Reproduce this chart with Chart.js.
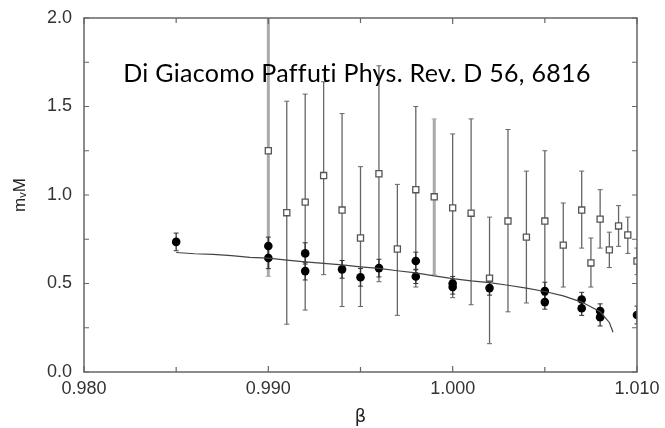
<!DOCTYPE html>
<html>
<head>
<meta charset="utf-8">
<script src="https://cdn.jsdelivr.net/npm/chart.js@4"></script>
<style>
  html, body { margin: 0; padding: 0; background: #fff; }
  #wrap { width: 665px; height: 428px; }
</style>
</head>
<body>
<div id="wrap"><canvas id="grafica" width="665" height="428"></canvas></div>
<script>
// open squares: beta, value, lower and upper end of error bar
const betaSq = [0.990, 0.991, 0.992, 0.993, 0.994, 0.995, 0.996, 0.997, 0.998, 0.999, 1.000, 1.001,
                1.002, 1.003, 1.004, 1.005, 1.006, 1.007, 1.0075, 1.008, 1.0085, 1.009, 1.0095, 1.010];
const mSq = [1.25, 0.90, 0.96, 1.11, 0.915, 0.757, 1.12, 0.695, 1.03, 0.99, 0.927, 0.897,
             0.53, 0.853, 0.762, 0.853, 0.717, 0.915, 0.616, 0.864, 0.69, 0.825, 0.774, 0.627];
const sqLo = [0.54, 0.27, 0.35, 0.55, 0.37, 0.37, 0.51, 0.32, 0.48, 0.55, 0.42, 0.38,
              0.16, 0.34, 0.39, 0.40, 0.48, 0.70, 0.48, 0.70, 0.59, 0.71, 0.67, 0.55];
const sqHi = [2.1, 1.53, 1.57, 1.64, 1.46, 1.16, 1.73, 1.06, 1.50, 1.43, 1.345, 1.43,
              0.875, 1.37, 1.135, 1.25, 0.955, 1.135, 0.757, 1.03, 0.79, 0.94, 0.875, 0.70];

// filled circles
const betaC = [0.985, 0.990, 0.990, 0.992, 0.992, 0.994, 0.995, 0.996, 0.998, 0.998,
               1.000, 1.000, 1.002, 1.005, 1.005, 1.007, 1.007, 1.008, 1.008, 1.010];
const mC = [0.735, 0.712, 0.644, 0.67, 0.57, 0.58, 0.535, 0.587, 0.627, 0.54,
            0.50, 0.48, 0.474, 0.457, 0.395, 0.41, 0.36, 0.345, 0.31, 0.322];
const errC = [0.05, 0.05, 0.06, 0.06, 0.05, 0.05, 0.05, 0.05, 0.05, 0.04,
              0.04, 0.04, 0.04, 0.05, 0.04, 0.04, 0.04, 0.04, 0.05, 0.05];

// fitted curve
const fitBeta = [0.985, 0.986, 0.987, 0.988, 0.989, 0.990, 0.991, 0.992, 0.993, 0.994, 0.995, 0.996,
                 0.997, 0.998, 0.999, 1.000, 1.001, 1.002, 1.003, 1.004, 1.005, 1.006, 1.007, 1.008,
                 1.0085, 1.0087];
const fitM = [0.675, 0.668, 0.665, 0.658, 0.648, 0.643, 0.632, 0.622, 0.614, 0.605, 0.594, 0.585,
              0.572, 0.56, 0.543, 0.528, 0.515, 0.505, 0.49, 0.474, 0.455, 0.43, 0.395, 0.34,
              0.28, 0.225];

const xTicks = [0.980, 0.990, 1.000, 1.010];
const yTicks = [0.0, 0.5, 1.0, 1.5, 2.0];
const titulo = "Di Giacomo Paffuti Phys. Rev. D 56, 6816";

// error bars, drawn below the markers
const barras = {
    id: "barras",
    beforeDatasetsDraw(chart) {
        const { ctx, chartArea, scales: { x, y } } = chart;
        ctx.save();
        ctx.beginPath();
        ctx.rect(chartArea.left, chartArea.top, chartArea.width, chartArea.height);
        ctx.clip();
        const linea = (b, lo, hi, color, ancho) => {
            const px = x.getPixelForValue(b);
            const p1 = y.getPixelForValue(lo);
            const p2 = y.getPixelForValue(hi);
            ctx.strokeStyle = color;
            ctx.lineWidth = ancho;
            ctx.beginPath();
            ctx.moveTo(px, p1); ctx.lineTo(px, p2);
            ctx.stroke();
            ctx.lineWidth = 1;
            ctx.beginPath();
            ctx.moveTo(px - 2.5, p1); ctx.lineTo(px + 2.5, p1);
            ctx.moveTo(px - 2.5, p2); ctx.lineTo(px + 2.5, p2);
            ctx.stroke();
        };
        const gruesas = [0.990, 0.999];
        betaSq.forEach((b, i) => {
            if (gruesas.includes(b)) linea(b, sqLo[i], sqHi[i], "#aaa", 3);
            else linea(b, sqLo[i], sqHi[i], "#666", 1.3);
        });
        betaC.forEach((b, i) => linea(b, mC[i] - errC[i], mC[i] + errC[i], "#333", 1.3));
        ctx.restore();
    }
};

// frame with inward ticks + text
const marco = {
    id: "marco",
    afterDraw(chart) {
        const { ctx, chartArea: a, scales: { x, y } } = chart;
        ctx.save();
        ctx.strokeStyle = "#666";
        ctx.lineWidth = 1.5;
        ctx.strokeRect(a.left, a.top, a.width, a.height);
        ctx.lineWidth = 1.2;
        ctx.beginPath();
        for (let k = 0; k <= 6; k++) {
            const v = 0.980 + k * 0.005;
            const px = x.getPixelForValue(v);
            const len = (k % 2 === 0) ? 6 : 5;
            ctx.moveTo(px, a.bottom); ctx.lineTo(px, a.bottom - len);
            ctx.moveTo(px, a.top); ctx.lineTo(px, a.top + len);
        }
        for (let k = 0; k <= 8; k++) {
            const py = y.getPixelForValue(k * 0.25);
            ctx.moveTo(a.left, py); ctx.lineTo(a.left + 5, py);
            ctx.moveTo(a.right, py); ctx.lineTo(a.right - 5, py);
        }
        ctx.stroke();

        ctx.fillStyle = "#000";
        ctx.font = "25px Lato";
        ctx.letterSpacing = "0.3px";
        ctx.textBaseline = "alphabetic";
        ctx.textAlign = "center";
        ctx.fillText(titulo, 357, 82);
        ctx.restore();
    }
};

function crearGrafica() {
    const ctx = document.getElementById("grafica").getContext("2d");
    new Chart(ctx, {
        type: "scatter",
        data: {
            datasets: [
                {
                    label: "fit",
                    data: fitBeta.map((b, i) => ({ x: b, y: fitM[i] })),
                    showLine: true,
                    borderColor: "#444",
                    borderWidth: 1.2,
                    pointRadius: 0,
                    tension: 0
                },
                {
                    label: "squares",
                    data: betaSq.map((b, i) => ({ x: b, y: mSq[i] })),
                    pointStyle: "rect",
                    pointRadius: 4.3,
                    backgroundColor: "#fff",
                    borderColor: "#555",
                    borderWidth: 1.3
                },
                {
                    label: "circles",
                    data: betaC.map((b, i) => ({ x: b, y: mC[i] })),
                    pointStyle: "circle",
                    pointRadius: 4.3,
                    backgroundColor: "#000",
                    borderColor: "#000",
                    borderWidth: 0
                }
            ]
        },
        options: {
            responsive: false,
            animation: false,
            layout: { padding: { left: 0, right: 28, top: 18, bottom: 0 } },
            plugins: {
                legend: { display: false },
                tooltip: { enabled: false }
            },
            scales: {
                x: {
                    type: "linear",
                    min: 0.980, max: 1.010,
                    afterBuildTicks: s => { s.ticks = xTicks.map(v => ({ value: v })); },
                    afterFit: s => { s.height = 56; s.paddingLeft = 0; s.paddingRight = 0; },
                    grid: { display: false, drawTicks: false },
                    border: { display: false },
                    ticks: {
                        padding: 6,
                        color: "#333",
                        font: { family: "Liberation Sans", size: 18 },
                        callback: v => v.toFixed(3)
                    },
                    title: {
                        display: true,
                        text: "β",
                        color: "#222",
                        padding: { top: 2, bottom: 0 },
                        font: { family: "DejaVu Sans", size: 18 }
                    }
                },
                y: {
                    type: "linear",
                    min: 0, max: 2,
                    afterBuildTicks: s => { s.ticks = yTicks.map(v => ({ value: v })); },
                    afterFit: s => { s.width = 84; s.paddingTop = 0; s.paddingBottom = 0; },
                    grid: { display: false, drawTicks: false },
                    border: { display: false },
                    ticks: {
                        padding: 12,
                        color: "#333",
                        font: { family: "Liberation Sans", size: 18 },
                        callback: v => v.toFixed(1)
                    },
                    title: {
                        display: true,
                        text: "mᵥM",
                        color: "#222",
                        padding: { top: 10, bottom: 0 },
                        font: { family: "Liberation Sans", size: 17 }
                    }
                }
            }
        },
        plugins: [barras, marco]
    });
}

document.addEventListener("DOMContentLoaded", () => {
    crearGrafica();
});
</script>
</body>
</html>
